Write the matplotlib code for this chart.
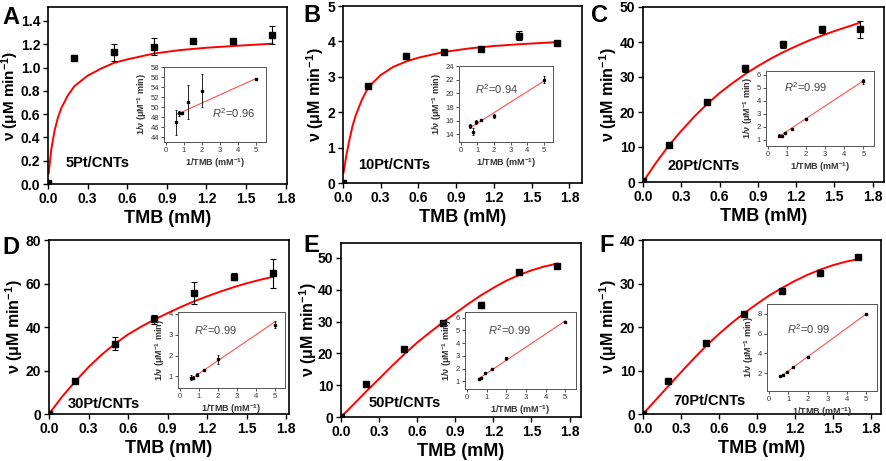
import numpy as np
import matplotlib.pyplot as plt

plt.rcParams['font.family'] = ['Liberation Sans', 'DejaVu Sans']
plt.rcParams['mathtext.fontset'] = 'custom'
plt.rcParams['mathtext.rm'] = 'Liberation Sans'
plt.rcParams['mathtext.it'] = 'Liberation Sans:italic'
plt.rcParams['mathtext.bf'] = 'Liberation Sans:bold'

# substrate concentrations (mM)
tmb = [0, 0.2, 0.5, 0.8, 1.1, 1.4, 1.7]
inv_tmb = [0.588, 0.714, 0.909, 1.25, 2.0, 5.0]

# measured rates
v_a = [0.01, 1.08, 1.13, 1.18, 1.23, 1.23, 1.28]
e_a = [0, 0, 0.075, 0.07, 0, 0, 0.075]
v_b = [0.0, 2.73, 3.6, 3.7, 3.78, 4.16, 3.95]
e_b = [0, 0.06, 0.07, 0.04, 0.04, 0.12, 0.05]
v_c = [0.2, 10.7, 22.8, 32.5, 39.4, 43.6, 43.6]
e_c = [0, 0.5, 0.5, 1.0, 1.0, 1.0, 2.4]
v_d = [0.0, 15.0, 32.4, 43.6, 55.8, 63.2, 64.7]
e_d = [0, 0.5, 3.2, 2.0, 5.0, 1.7, 6.7]
v_e = [0.0, 10.5, 21.3, 29.4, 35.3, 45.5, 47.4]
e_e = [0, 0.3, 0.6, 0.5, 1.0, 0.5, 0.7]
v_f = [0.0, 7.5, 16.3, 23.0, 28.2, 32.4, 36.1]
e_f = [0, 0.2, 0.3, 0.4, 0.4, 0.5, 0.3]

# fitted curves
fx_fast = [0.005, 0.025, 0.05, 0.075, 0.1, 0.15, 0.2, 0.3, 0.4, 0.5, 0.6, 0.8, 1.0, 1.2, 1.4, 1.7]
fit_a = [0.09, 0.30, 0.46, 0.57, 0.65, 0.76, 0.84, 0.93, 0.99, 1.04, 1.07, 1.12, 1.15, 1.17, 1.185, 1.205]
fit_b = [0.30, 0.75, 1.2, 1.6, 1.9, 2.35, 2.7, 3.05, 3.28, 3.43, 3.54, 3.70, 3.80, 3.87, 3.92, 3.98]
fx = [0, 0.1, 0.2, 0.3, 0.4, 0.5, 0.6, 0.7, 0.8, 0.9, 1.0, 1.1, 1.2, 1.3, 1.4, 1.5, 1.6, 1.7]
fit_c = [0, 5.4, 10.3, 14.6, 18.6, 22.2, 25.4, 28.2, 30.8, 33.1, 35.2, 37.1, 38.8, 40.4, 41.8, 43.1, 44.3, 45.5]
fit_d = [0, 8.0, 15.0, 21.6, 27.3, 32.3, 36.6, 40.2, 43.4, 46.4, 49.2, 51.8, 54.1, 56.3, 58.3, 60.1, 61.7, 63.1]
fit_e = [0, 4.0, 8.1, 12.0, 16.0, 19.8, 23.4, 26.6, 29.7, 32.6, 35.5, 38.2, 40.6, 42.8, 44.6, 46.1, 47.3, 48.2]
fit_f = [0, 3.2, 6.4, 9.6, 12.7, 15.7, 18.4, 20.9, 23.2, 25.3, 27.3, 29.0, 30.6, 32.0, 33.2, 34.2, 35.0, 35.6]

# Lineweaver-Burk insets
iv_a = [47.0, 48.8, 48.8, 51.0, 53.3, 55.7]
ie_a = [2.5, 0.5, 0.2, 3.4, 3.3, 0.1]
iv_b = [15.2, 14.4, 15.8, 16.1, 16.7, 22.0]
ie_b = [0.3, 0.5, 0.3, 0.15, 0.3, 0.5]
iv_c = [1.31, 1.30, 1.47, 1.80, 2.58, 5.51]
ie_c = [0.1, 0.05, 0.05, 0.05, 0.05, 0.2]
iv_d = [0.95, 0.95, 1.08, 1.33, 1.82, 3.48]
ie_d = [0.1, 0.05, 0.08, 0.05, 0.2, 0.15]
iv_e = [1.22, 1.27, 1.67, 2.0, 2.8, 5.7]
ie_e = [0.05, 0.05, 0.08, 0.05, 0.1, 0.05]
iv_f = [1.72, 1.83, 2.1, 2.6, 3.68, 8.0]
ie_f = [0.05, 0.05, 0.05, 0.05, 0.05, 0.05]
lin_x = [0.588, 5.0]
lin_a = [48.5, 55.7]
lin_b = [15.0, 21.8]
lin_c = [1.25, 5.55]
lin_d = [0.88, 3.6]
lin_e = [1.2, 5.75]
lin_f = [1.65, 8.0]
r2 = ['0.96', '0.94', '0.99', '0.99', '0.99', '0.99']

letters = ['A', 'B', 'C', 'D', 'E', 'F']
names = ['5Pt/CNTs', '10Pt/CNTs', '20Pt/CNTs', '30Pt/CNTs', '50Pt/CNTs', '70Pt/CNTs']

W, H = 886, 461


def rect(x0, x1, y0, y1):
    return [x0 / W, 1 - y1 / H, (x1 - x0) / W, (y1 - y0) / H]


panels = [
    dict(v=v_a, e=e_a, cx=fx_fast, cy=fit_a, iv=iv_a, ie=ie_a, lin=lin_a,
         box=(48, 287, 7, 184), ibox=(164, 266, 67, 142), xl=1.81, yl=1.52,
         yt=np.arange(0, 1.41, 0.2), yfmt='{:.1f}', iyl=(43, 58), iyt=range(44, 59, 2),
         lab=(0.075, 0.12), r2pos=(0.47, 0.39), letter=(2, 17), ylc=-0.113),
    dict(v=v_b, e=e_b, cx=fx_fast, cy=fit_b, iv=iv_b, ie=ie_b, lin=lin_b,
         box=(343, 582, 6, 183), ibox=(459, 553, 66, 142), xl=1.9, yl=5,
         yt=range(0, 6), yfmt='{:.0f}', iyl=(12.9, 24), iyt=range(14, 25, 2),
         lab=(0.064, 0.10), r2pos=(0.17, 0.70), letter=(303, 15), ylc=-0.07),
    dict(v=v_c, e=e_c, cx=fx, cy=fit_c, iv=iv_c, ie=ie_c, lin=lin_c,
         box=(643, 884, 7, 182), ibox=(766, 874, 71, 146), xl=1.89, yl=50,
         yt=range(0, 51, 10), yfmt='{:.0f}', iyl=(0.5, 6.3), iyt=range(1, 7),
         lab=(0.10, 0.09), r2pos=(0.17, 0.78), letter=(591, 15), ylc=-0.10),
    dict(v=v_d, e=e_d, cx=fx, cy=fit_d, iv=iv_d, ie=ie_d, lin=lin_d,
         box=(49, 289, 240, 414), ibox=(178, 285, 312, 388), xl=1.82, yl=80,
         yt=range(0, 81, 20), yfmt='{:.0f}', iyl=(0.45, 4.08), iyt=range(1, 5),
         lab=(0.08, 0.06), r2pos=(0.15, 0.76), letter=(2, 247), ylc=-0.10),
    dict(v=v_e, e=e_e, cx=fx, cy=fit_e, iv=iv_e, ie=ie_e, lin=lin_e,
         box=(341, 581, 243, 417), ibox=(465, 576, 312, 389), xl=1.89, yl=54.7,
         yt=range(0, 51, 10), yfmt='{:.0f}', iyl=(0.4, 6.45), iyt=range(1, 7),
         lab=(0.117, 0.08), r2pos=(0.21, 0.77), letter=(303, 245), ylc=-0.09),
    dict(v=v_f, e=e_f, cx=fx, cy=fit_f, iv=iv_f, ie=ie_f, lin=lin_f,
         box=(643, 881, 240, 414), ibox=(767, 877, 304, 391), xl=1.88, yl=40,
         yt=range(0, 41, 10), yfmt='{:.0f}', iyl=(0.2, 9.0), iyt=range(2, 9, 2),
         lab=(0.126, 0.075), r2pos=(0.18, 0.71), letter=(599, 245), ylc=-0.10),
]

fig = plt.figure(figsize=(W / 100, H / 100), dpi=100)

for i, p in enumerate(panels):
    ax = fig.add_axes(rect(*p['box']))
    ax.plot(p['cx'], p['cy'], color='#ff0000', lw=1.4, zorder=2)
    ax.errorbar(tmb, p['v'], yerr=p['e'], fmt='s', color='black', ms=4.2,
                ecolor='black', elinewidth=0.8, capsize=2, capthick=0.8, zorder=3)
    ax.set_xlim(0, p['xl'])
    ax.set_ylim(0, p['yl'])
    ax.set_xticks(np.arange(0, 1.81, 0.3))
    ax.set_xticklabels(['{:.1f}'.format(t) for t in np.arange(0, 1.81, 0.3)])
    ax.set_yticks(list(p['yt']))
    ax.set_yticklabels([p['yfmt'].format(t) for t in p['yt']])
    ax.tick_params(direction='out', length=3.5, width=1.0, labelsize=10, pad=2)
    for lbl in ax.get_xticklabels() + ax.get_yticklabels():
        lbl.set_fontweight('bold')
    for s in ax.spines.values():
        s.set_linewidth(1.2)
    ax.set_xlabel('TMB (mM)', fontsize=13, fontweight='bold', labelpad=3)
    ax.set_ylabel(r'ν (μM min$^{\mathbf{-1}}$)', fontsize=11.5 if i else 11,
                  fontweight='bold')
    ax.yaxis.set_label_coords(p['ylc'], 0.5)
    ax.text(p['lab'][0], p['lab'][1], names[i], transform=ax.transAxes,
            fontsize=10.5, fontweight='bold', ha='left', va='center')
    fig.text(p['letter'][0] / W, 1 - p['letter'][1] / H, letters[i],
             fontsize=17, fontweight='bold', ha='left', va='center')

    # inset
    ins = fig.add_axes(rect(*p['ibox']))
    ins.plot(lin_x, p['lin'], color='#ff5050', lw=0.8, zorder=2)
    ins.errorbar(inv_tmb, p['iv'], yerr=p['ie'], fmt='s', color='black', ms=1.6,
                 ecolor='black', elinewidth=0.6, capsize=1, capthick=0.6, zorder=3)
    ins.set_xlim(-0.1, 5.55)
    ins.set_ylim(*p['iyl'])
    ins.set_xticks(range(0, 6))
    ins.set_yticks(list(p['iyt']))
    ins.tick_params(direction='out', length=2, width=0.6, labelsize=5.5, pad=1.5,
                    colors='#333333')
    for s in ins.spines.values():
        s.set_linewidth(0.7)
        s.set_color('#555555')
    ins.set_xlabel(r'1/TMB (mM$^{\mathbf{-1}}$)', fontsize=6.5, fontweight='bold',
                   color='#333333', labelpad=2)
    ins.set_ylabel(r'1/ν (μM$^{\mathbf{-1}}$ min)', fontsize=6.5, fontweight='bold',
                   color='#333333', labelpad=1.5)
    ins.text(p['r2pos'][0], p['r2pos'][1], r'$R^2$=' + r2[i], transform=ins.transAxes,
             fontsize=8, color='#444444', ha='left', va='center')

fig.savefig('out.png', dpi=100)
